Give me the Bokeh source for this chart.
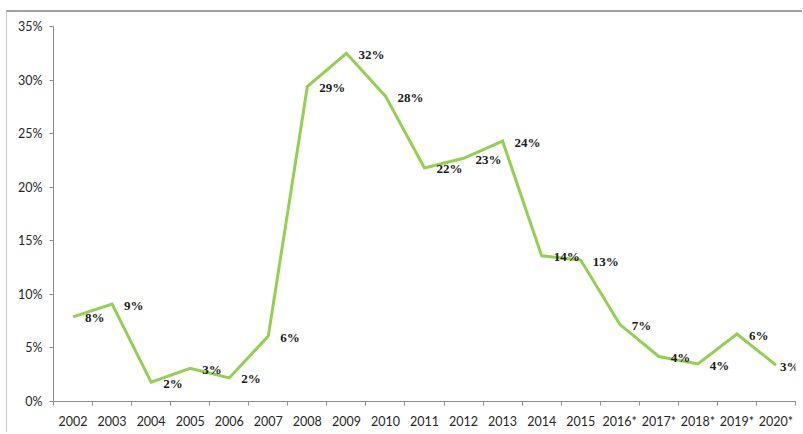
from bokeh.plotting import figure
from bokeh.models import ColumnDataSource, Range1d, FixedTicker, LabelSet
from bokeh.embed import file_html
from bokeh.resources import INLINE

years = ["2002", "2003", "2004", "2005", "2006", "2007", "2008", "2009", "2010",
         "2011", "2012", "2013", "2014", "2015", "2016*", "2017*", "2018*", "2019*", "2020*"]
values = [7.9, 9.1, 1.8, 3.1, 2.2, 6.1, 29.4, 32.5, 28.5,
          21.8, 22.7, 24.3, 13.6, 13.2, 7.2, 4.2, 3.5, 6.3, 3.4]
labels = ["8%", "9%", "2%", "3%", "2%", "6%", "29%", "32%", "28%",
          "22%", "23%", "24%", "14%", "13%", "7%", "4%", "4%", "6%", "3%"]
y_ticks = [0, 5, 10, 15, 20, 25, 30, 35]
y_tick_labels = ["0%", "5%", "10%", "15%", "20%", "25%", "30%", "35%"]

xs = [i + 0.5 for i in range(len(years))]
# label offset to the right of each point; the last one is pulled in to stay on the page
dx = [12] * (len(years) - 1) + [4]
src = ColumnDataSource(dict(x=xs, y=values, label=labels, dx=dx))

FONT = "Lato"

p = figure(width=796, height=422, output_backend="svg", toolbar_location=None,
           x_range=Range1d(0, len(years)), y_range=Range1d(0, 35),
           min_border_left=46, min_border_right=8, min_border_top=14, min_border_bottom=33)
p.background_fill_color = "white"
p.border_fill_color = "white"
p.outline_line_color = None
p.grid.visible = False
p.styles = {"border-left": "1px solid #c8c8c8", "border-top": "2px solid #a0a0a0",
            "margin-left": "6px", "margin-top": "10px"}

p.line("x", "y", source=src, line_color="#92D050", line_width=3, line_join="miter")

p.add_layout(LabelSet(x="x", y="y", text="label", source=src, x_offset="dx", y_offset=-1,
                      text_align="left", text_baseline="middle",
                      text_font=FONT, text_font_size="13px", text_font_style="bold",
                      text_color="#1a1a1a"))

# x axis
xa = p.xaxis[0]
xa.ticker = FixedTicker(ticks=xs, minor_ticks=list(range(len(years) + 1)))
xa.major_label_overrides = {x: y for x, y in zip(xs, years)}
xa.major_tick_out = 0
xa.major_tick_in = 0
xa.minor_tick_out = 4
xa.minor_tick_in = 0
xa.minor_tick_line_color = "#8c8c8c"
xa.axis_line_color = "#8c8c8c"
xa.major_label_standoff = 8
xa.major_label_text_font = FONT
xa.major_label_text_font_size = "12.5px"
xa.major_label_text_color = "#262626"

# y axis
ya = p.yaxis[0]
ya.ticker = FixedTicker(ticks=y_ticks, minor_ticks=[])
ya.major_label_overrides = {t: l for t, l in zip(y_ticks, y_tick_labels)}
ya.major_tick_out = 4
ya.major_tick_in = 0
ya.major_tick_line_color = "#8c8c8c"
ya.axis_line_color = "#8c8c8c"
ya.major_label_standoff = 7
ya.major_label_text_font = FONT
ya.major_label_text_font_size = "12.5px"
ya.major_label_text_color = "#262626"

open("out.html", "w").write(file_html(p, INLINE))
